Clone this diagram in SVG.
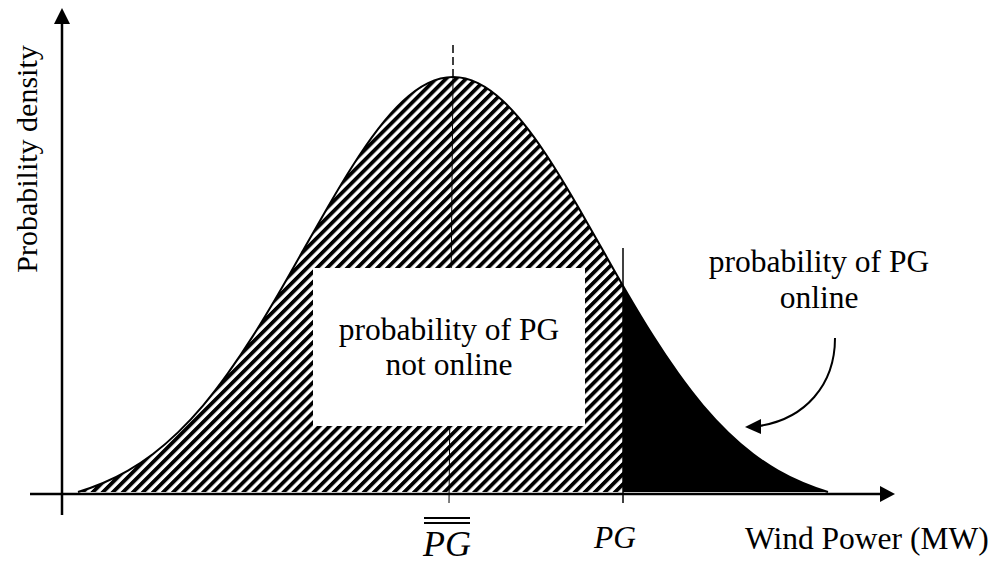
<svg xmlns="http://www.w3.org/2000/svg" width="997" height="563" viewBox="0 0 997 563">
  <style>
    .txt { font-family: "Liberation Serif", "Times New Roman", serif; font-size: 31.5px; fill: #000; }
    .mid { text-anchor: middle; }
    .ital { font-style: italic; }
    .axis { stroke: #000; stroke-width: 2.5; fill: none; }
    .curve { stroke: #000; stroke-width: 2; fill: none; }
    .thin { stroke: #000; stroke-width: 1; fill: none; }
  </style>
  <defs>
    <pattern id="hatch" patternUnits="userSpaceOnUse" width="7.1" height="7.1" patternTransform="rotate(45)">
      <rect width="7.1" height="7.1" fill="#fff"/>
      <rect width="3.8" height="7.1" fill="#000"/>
    </pattern>
    <clipPath id="under">
      <path id="area" d="M78,492 C86.33,489.52 94.67,486.51 103,483.0 C111.33,479.49 119.67,475.40 128,470.6 C136.33,465.80 144.67,460.33 153,454.0 C161.33,447.67 169.67,440.45 178,432.4 C186.33,424.35 194.67,415.48 203,405.6 C211.33,395.73 219.67,384.86 228,373.2 C236.33,361.55 244.67,349.10 253,335.9 C261.33,322.70 269.67,308.81 278,294.5 C286.33,280.19 294.67,265.37 303,250.6 C311.33,235.83 319.67,221.09 328,206.7 C336.33,192.31 344.67,178.29 353,165.2 C361.33,152.11 369.67,139.95 378,129.1 C386.33,118.25 394.67,108.77 403,101.0 C411.33,93.23 419.67,87.15 428,83.1 C436.33,79.05 444.67,77 453,77 C461.33,77 469.67,79.05 478,83.1 C486.33,87.15 494.67,93.23 503,101.0 C511.33,108.77 519.67,118.25 528,129.1 C536.33,139.95 544.67,152.11 553,165.2 C561.33,178.29 569.67,192.31 578,206.7 C586.33,221.09 594.67,235.83 603,250.6 C611.33,265.37 619.67,280.19 628,294.5 C636.33,308.81 644.67,322.70 653,335.9 C661.33,349.10 669.67,361.55 678,373.2 C686.33,384.86 694.67,395.73 703,405.6 C711.33,415.48 719.67,424.35 728,432.4 C736.33,440.45 744.67,447.67 753,454.0 C761.33,460.33 769.67,465.80 778,470.6 C786.33,475.40 794.67,479.49 803,483.0 C811.33,486.51 819.67,489.52 828,492 Z"/>
    </clipPath>
  </defs>

  <g id="regions" clip-path="url(#under)">
    <rect id="not-online-area" x="60" y="60" width="563" height="440" fill="url(#hatch)"/>
    <rect id="online-area" x="623" y="60" width="220" height="440" fill="#000"/>
  </g>

  <g id="mean-line">
    <line x1="453" y1="45" x2="453" y2="77" stroke="#000" stroke-width="1.5" stroke-dasharray="8,4"/>
    <line class="thin" x1="453" y1="77" x2="449" y2="503"/>
  </g>

  <g id="not-online-label">
    <rect x="313" y="268" width="272" height="158" fill="#fff"/>
    <text class="txt mid" x="449" y="340">probability of PG</text>
    <text class="txt mid" x="449" y="375">not online</text>
  </g>

  <g id="density-curve">
    <path class="curve" d="M78,492 C86.33,489.52 94.67,486.51 103,483.0 C111.33,479.49 119.67,475.40 128,470.6 C136.33,465.80 144.67,460.33 153,454.0 C161.33,447.67 169.67,440.45 178,432.4 C186.33,424.35 194.67,415.48 203,405.6 C211.33,395.73 219.67,384.86 228,373.2 C236.33,361.55 244.67,349.10 253,335.9 C261.33,322.70 269.67,308.81 278,294.5 C286.33,280.19 294.67,265.37 303,250.6 C311.33,235.83 319.67,221.09 328,206.7 C336.33,192.31 344.67,178.29 353,165.2 C361.33,152.11 369.67,139.95 378,129.1 C386.33,118.25 394.67,108.77 403,101.0 C411.33,93.23 419.67,87.15 428,83.1 C436.33,79.05 444.67,77 453,77 C461.33,77 469.67,79.05 478,83.1 C486.33,87.15 494.67,93.23 503,101.0 C511.33,108.77 519.67,118.25 528,129.1 C536.33,139.95 544.67,152.11 553,165.2 C561.33,178.29 569.67,192.31 578,206.7 C586.33,221.09 594.67,235.83 603,250.6 C611.33,265.37 619.67,280.19 628,294.5 C636.33,308.81 644.67,322.70 653,335.9 C661.33,349.10 669.67,361.55 678,373.2 C686.33,384.86 694.67,395.73 703,405.6 C711.33,415.48 719.67,424.35 728,432.4 C736.33,440.45 744.67,447.67 753,454.0 C761.33,460.33 769.67,465.80 778,470.6 C786.33,475.40 794.67,479.49 803,483.0 C811.33,486.51 819.67,489.52 828,492"/>
  </g>

  <g id="pg-line">
    <line x1="623" y1="248" x2="623" y2="503" stroke="#000" stroke-width="1.5"/>
  </g>

  <g id="axes">
    <line class="axis" x1="62" y1="22" x2="62" y2="515"/>
    <polygon points="62,8 54,24 70,24" fill="#000"/>
    <line class="axis" x1="30" y1="494" x2="882" y2="494"/>
    <polygon points="895,494 880,486 880,502" fill="#000"/>
  </g>

  <g id="connectors">
    <path d="M835,338 C835,385 805,419 759,426" stroke="#000" stroke-width="2" fill="none"/>
    <polygon points="745,427 761,419 761,434" fill="#000"/>
  </g>

  <g id="online-label">
    <text class="txt mid" x="819" y="272">probability of PG</text>
    <text class="txt mid" x="819" y="308">online</text>
  </g>

  <g id="y-label">
    <text class="txt mid" style="font-size:30px" transform="translate(37,159) rotate(-90)">Probability density</text>
  </g>

  <g id="x-label">
    <text class="txt" x="745" y="549">Wind Power (MW)</text>
  </g>

  <g id="pg-mean-label">
    <line x1="424" y1="518" x2="470" y2="518" stroke="#000" stroke-width="2"/>
    <line x1="424" y1="523" x2="470" y2="523" stroke="#000" stroke-width="2"/>
    <text class="txt ital" style="font-size:36px" x="423" y="556">PG</text>
  </g>

  <g id="pg-label">
    <text class="txt ital" x="594" y="548">PG</text>
  </g>
</svg>
